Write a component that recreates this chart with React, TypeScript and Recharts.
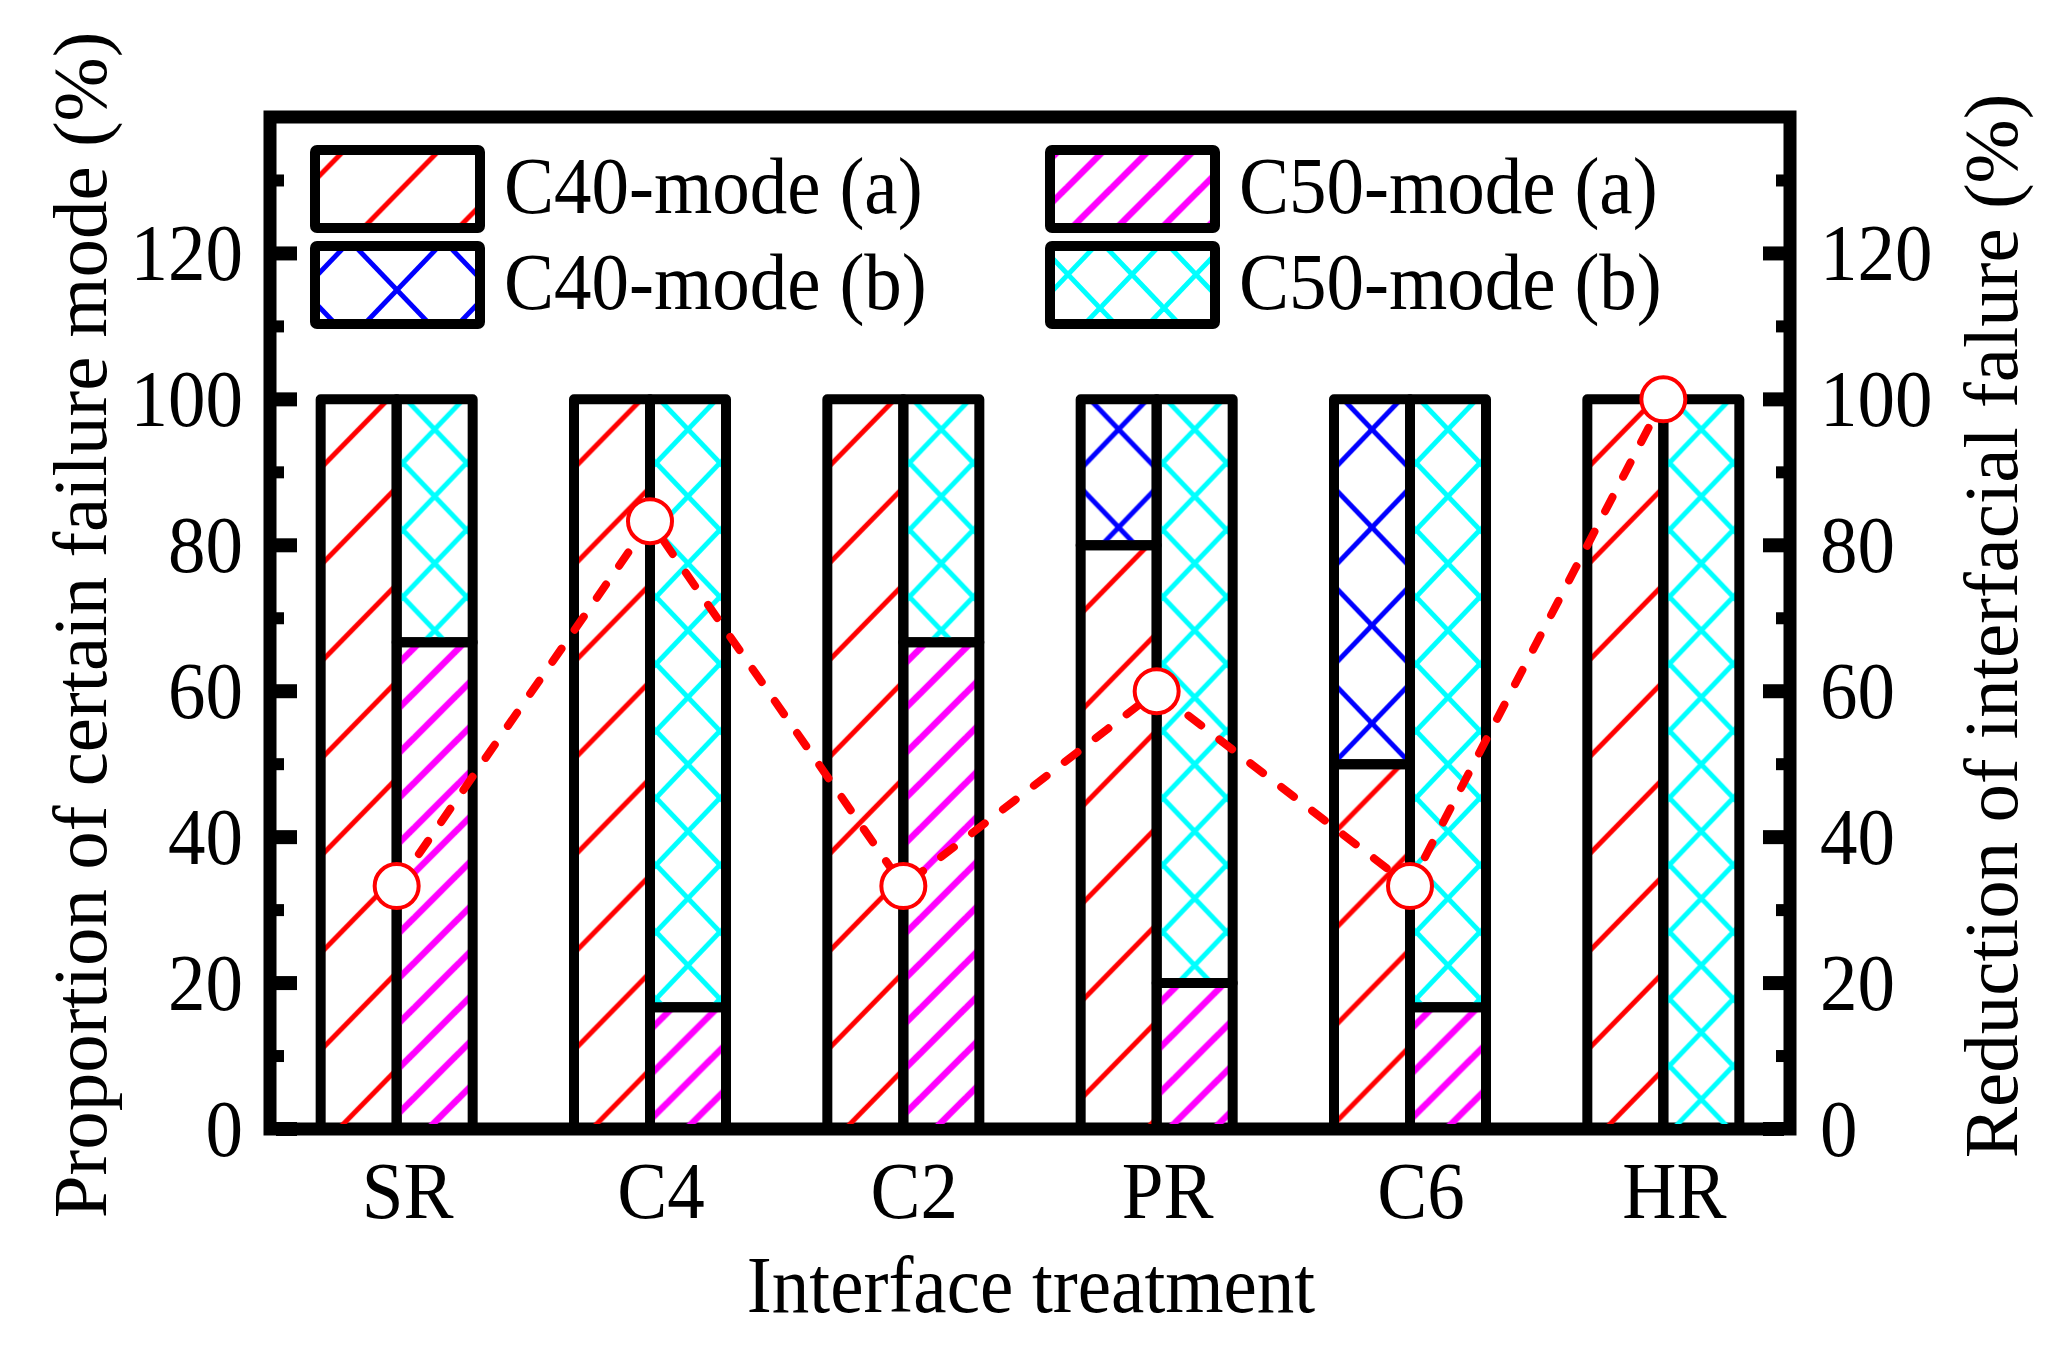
import React from "react";
import { ComposedChart, Bar, Line, XAxis, YAxis, ReferenceArea } from "recharts";

// failure mode proportions (%) per interface treatment
const categories = ["SR", "C4", "C2", "PR", "C6", "HR"];
const c40ModeA = [100, 100, 100, 80, 50, 100];
const c40ModeB = [0, 0, 0, 20, 50, 0];
const c50ModeA = [66.7, 16.7, 66.7, 20, 16.7, 0];
const c50ModeB = [33.3, 83.3, 33.3, 80, 83.3, 100];
// reduction of interfacial failure (%), right axis
const reduction = [33.3, 83.3, 33.3, 60, 33.3, 100];

const yTicks = [0, 10, 20, 30, 40, 50, 60, 70, 80, 90, 100, 110, 120, 130];
const Y_MAX = 138.7;

const data = categories.map((name, i) => ({
  name,
  c40a: c40ModeA[i],
  c40b: c40ModeB[i],
  c50a: c50ModeA[i],
  c50b: c50ModeB[i],
  reduction: reduction[i],
}));

const FONT = '"Liberation Serif", "Times New Roman", serif';
const W = 2065;
const H = 1349;
const PLOT_LEFT = 270;
const PLOT_RIGHT = 1790;
const PLOT_TOP = 117;
const PLOT_BOTTOM = 1129;
const STRETCH = 1.08; // text in the figure is a bit taller than wide

type Hatch = { color: string; w: number; h: number; sw: number; cross: boolean };
const HATCH: Record<string, Hatch> = {
  c40a: { color: "#ff0000", w: 95, h: 97, sw: 5, cross: false },
  c50a: { color: "#ff00ff", w: 45, h: 45, sw: 6.5, cross: false },
  c40b: { color: "#0000ff", w: 94, h: 98, sw: 5, cross: true },
  c50b: { color: "#00ffff", w: 64, h: 67, sw: 5, cross: true },
};

function HatchPattern({ id, hatch, x, y }: { id: string; hatch: Hatch; x: number; y: number }) {
  const { w, h, color, sw, cross } = hatch;
  return (
    <pattern id={id} patternUnits="userSpaceOnUse" x={x} y={y} width={w} height={h}>
      <g stroke={color} strokeWidth={sw} fill="none">
        <line x1={-w} y1={2 * h} x2={2 * w} y2={-h} />
        <line x1={-w} y1={h} x2={w} y2={-h} />
        <line x1={0} y1={2 * h} x2={2 * w} y2={0} />
        {cross && (
          <>
            <line x1={-w} y1={-h} x2={2 * w} y2={2 * h} />
            <line x1={0} y1={-h} x2={2 * w} y2={h} />
            <line x1={-w} y1={0} x2={w} y2={2 * h} />
          </>
        )}
      </g>
    </pattern>
  );
}

const makeShape = (key: string) => (props: any) => {
  const { x, y, width, height } = props;
  if (!height || height <= 0) return <g />;
  const hatch = HATCH[key];
  const id = `bar-${key}-${Math.round(x)}-${Math.round(y)}`;
  return (
    <g>
      <defs>
        <HatchPattern id={id} hatch={hatch} x={x + width / 2 - hatch.w / 2} y={y - hatch.h / 2 + 30} />
      </defs>
      <rect
        x={x}
        y={y}
        width={width}
        height={height}
        fill={`url(#${id})`}
        stroke="#000"
        strokeWidth={10}
        strokeLinejoin="round"
      />
    </g>
  );
};

const YTick = (side: "left" | "right") => (props: any) => {
  const { y, payload } = props;
  const v = payload.value as number;
  const major = v % 20 === 0;
  const inner = side === "left" ? PLOT_LEFT + 6 : PLOT_RIGHT - 6;
  const len = major ? 21 : 8;
  const x2 = side === "left" ? inner + len : inner - len;
  return (
    <g>
      <line x1={inner} x2={x2} y1={y} y2={y} stroke="#000" strokeWidth={major ? 14 : 12} />
      {major && (
        <text
          transform={`translate(${side === "left" ? 243 : 1820}, ${y + 27}) scale(1, ${STRETCH})`}
          textAnchor={side === "left" ? "end" : "start"}
          fontSize={75}
          fontFamily={FONT}
          fill="#000"
        >
          {v}
        </text>
      )}
    </g>
  );
};

const XTick = (props: any) => {
  const { x, payload } = props;
  return (
    <text
      transform={`translate(${x + 11}, ${PLOT_BOTTOM + 89}) scale(1, ${STRETCH})`}
      textAnchor="middle"
      fontSize={75}
      fontFamily={FONT}
      fill="#000"
    >
      {payload.value}
    </text>
  );
};

const RedDot = (props: any) => {
  const { cx, cy, index } = props;
  return <circle key={`dot-${index}`} cx={cx} cy={cy} r={22} fill="#fff" stroke="#ff0000" strokeWidth={4} />;
};

const legendItems = [
  { key: "c40a", label: "C40-mode (a)", left: 310, top: 145 },
  { key: "c40b", label: "C40-mode (b)", left: 310, top: 241 },
  { key: "c50a", label: "C50-mode (a)", left: 1045, top: 145 },
  { key: "c50b", label: "C50-mode (b)", left: 1045, top: 241 },
];

function LegendBox() {
  return (
    <>
      {legendItems.map((it) => {
        const hatch = HATCH[it.key];
        const id = `legend-${it.key}`;
        return (
          <div key={it.key} style={{ position: "absolute", left: it.left, top: it.top, display: "flex" }}>
            <svg width={175} height={88} style={{ display: "block" }}>
              <defs>
                <HatchPattern id={id} hatch={hatch} x={87 - hatch.w / 2} y={0} />
              </defs>
              <rect x={5} y={5} width={165} height={78} fill={`url(#${id})`} stroke="#000" strokeWidth={10} rx={2} />
            </svg>
            <div
              style={{
                position: "absolute",
                left: 194,
                top: 3,
                fontSize: 75,
                lineHeight: 1,
                fontFamily: FONT,
                whiteSpace: "nowrap",
                color: "#000",
                transform: `scale(1, ${STRETCH})`,
                transformOrigin: "0 50%",
              }}
            >
              {it.label}
            </div>
          </div>
        );
      })}
    </>
  );
}

const titleStyle: React.CSSProperties = {
  position: "absolute",
  fontSize: 77,
  lineHeight: 1,
  fontFamily: FONT,
  whiteSpace: "nowrap",
  color: "#000",
};

export default function App() {
  return (
    <div style={{ position: "absolute", left: 0, top: 0, width: W, height: H, background: "#fff" }}>
      <ComposedChart
        width={W}
        height={H}
        data={data}
        margin={{ top: PLOT_TOP, right: W - PLOT_RIGHT - 150, bottom: H - PLOT_BOTTOM - 100, left: PLOT_LEFT - 150 }}
        barCategoryGap="20%"
        barGap={0}
      >
        <XAxis dataKey="name" axisLine={false} tickLine={false} height={100} interval={0} tick={XTick} />
        <YAxis
          yAxisId="left"
          domain={[0, Y_MAX]}
          ticks={yTicks}
          interval={0}
          width={150}
          axisLine={false}
          tickLine={false}
          tick={YTick("left")}
          allowDataOverflow
        />
        <YAxis
          yAxisId="right"
          orientation="right"
          domain={[0, Y_MAX]}
          ticks={yTicks}
          interval={0}
          width={150}
          axisLine={false}
          tickLine={false}
          tick={YTick("right")}
          allowDataOverflow
        />
        <Bar yAxisId="left" dataKey="c40a" stackId="c40" shape={makeShape("c40a")} isAnimationActive={false} />
        <Bar yAxisId="left" dataKey="c40b" stackId="c40" shape={makeShape("c40b")} isAnimationActive={false} />
        <Bar yAxisId="left" dataKey="c50a" stackId="c50" shape={makeShape("c50a")} isAnimationActive={false} />
        <Bar yAxisId="left" dataKey="c50b" stackId="c50" shape={makeShape("c50b")} isAnimationActive={false} />
        <Line
          yAxisId="right"
          type="linear"
          dataKey="reduction"
          stroke="#ff0000"
          strokeWidth={8}
          strokeDasharray="16 23"
          strokeLinecap="round"
          dot={RedDot}
          activeDot={false}
          isAnimationActive={false}
        />
        <ReferenceArea
          yAxisId="left"
          y1={0}
          y2={Y_MAX}
          fill="none"
          stroke="#000"
          strokeWidth={13}
          ifOverflow="visible"
        />
      </ComposedChart>
      <LegendBox />
      <div
        style={{
          ...titleStyle,
          fontSize: 75,
          left: 1031,
          top: 1284,
          transform: `translate(-50%, -50%) scale(1, ${STRETCH})`,
        }}
      >
        Interface treatment
      </div>
      <div style={{ ...titleStyle, left: 80, top: 625, transform: "translate(-50%, -50%) rotate(-90deg)" }}>
        Proportion of certain failure mode (%)
      </div>
      <div style={{ ...titleStyle, left: 1991, top: 626, transform: "translate(-50%, -50%) rotate(-90deg)" }}>
        Reduction of interfacial falure (%)
      </div>
    </div>
  );
}
